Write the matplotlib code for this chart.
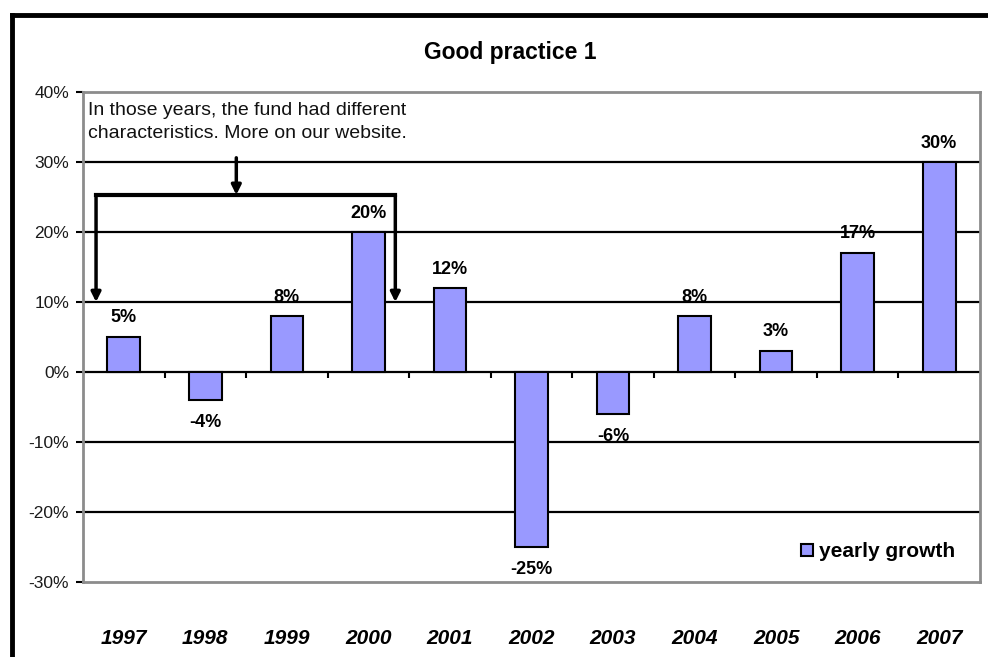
import matplotlib.pyplot as plt
from matplotlib.lines import Line2D

years = ["1997", "1998", "1999", "2000", "2001", "2002", "2003", "2004", "2005", "2006", "2007"]
growth = [5, -4, 8, 20, 12, -25, -6, 8, 3, 17, 30]
y_ticks = [-30, -20, -10, 0, 10, 20, 30, 40]

plt.rcParams["font.family"] = ["Liberation Sans", "DejaVu Sans"]

fig = plt.figure(figsize=(9.88, 6.57), dpi=100)
ax = fig.add_axes([83 / 988, 1 - 582 / 657, (980 - 83) / 988, (582 - 92) / 657])

x = list(range(len(years)))
ax.bar(x, growth, width=0.4, color="#9999FF", edgecolor="black", linewidth=1.5,
       zorder=3, label="yearly growth")

# horizontal gridlines, black
for t in y_ticks[1:-1]:
    ax.axhline(t, color="black", linewidth=1.6, zorder=1)
# category separator ticks on the zero line
ax.vlines([i + 0.5 for i in x[:-1]], -0.8, 0, color="black", linewidth=1.5, zorder=2)

ax.set_xlim(-0.5, len(years) - 0.5)
ax.set_ylim(-30, 40)
ax.set_yticks(y_ticks)
ax.set_yticklabels([f"{t}%" for t in y_ticks], fontsize=12.5, color="#1a1a1a")
ax.tick_params(axis="y", length=5, width=1.5, pad=5)
ax.set_xticks(x)
ax.set_xticklabels(years, fontsize=15, fontweight="bold", style="italic")
ax.tick_params(axis="x", length=0, pad=34)
for s in ax.spines.values():
    s.set_color("#8c8c8c")
    s.set_linewidth(2)

# value labels
for xi, v in zip(x, growth):
    if v >= 0:
        ax.text(xi, v + 1.5, f"{v}%", ha="center", va="bottom", fontsize=13, fontweight="bold", zorder=4)
    else:
        ax.text(xi, v - 2.0, f"{v}%", ha="center", va="top", fontsize=13, fontweight="bold", zorder=4)

# note with bracket and arrows
ax.text(-0.44, 38.6, "In those years, the fund had different\ncharacteristics. More on our website.",
        ha="left", va="top", fontsize=14, linespacing=1.45, color="#111111")
ax.plot([-0.34, 3.33], [25.3, 25.3], color="black", linewidth=3, zorder=5, solid_capstyle="projecting")
arrow = dict(arrowstyle="-|>", lw=2.5, color="black", mutation_scale=14, shrinkA=0, shrinkB=0)
ax.annotate("", xy=(-0.34, 10.0), xytext=(-0.34, 25.3), arrowprops=arrow, zorder=5)
ax.annotate("", xy=(3.33, 10.0), xytext=(3.33, 25.3), arrowprops=arrow, zorder=5)
ax.annotate("", xy=(1.38, 25.3), xytext=(1.38, 30.6), arrowprops=arrow, zorder=5)

ax.legend(loc="lower right", bbox_to_anchor=(0.9816, 0.0255), frameon=False,
          prop={"weight": "bold", "size": 15},
          handlelength=0.55, handleheight=0.55, handletextpad=0.3,
          borderaxespad=0)

fig.text(510 / 988, 1 - 53 / 657, "Good practice 1", ha="center", va="center",
         fontsize=16.5, fontweight="bold")

# outer frame (left and top edges)
fig.add_artist(Line2D([12 / 988, 12 / 988], [0, 1 - 15 / 657], color="black", linewidth=3.5,
                      transform=fig.transFigure, solid_capstyle="projecting"))
fig.add_artist(Line2D([12 / 988, 1], [1 - 15 / 657, 1 - 15 / 657], color="black", linewidth=3.5,
                      transform=fig.transFigure, solid_capstyle="projecting"))

fig.savefig("out.png", dpi=100)
